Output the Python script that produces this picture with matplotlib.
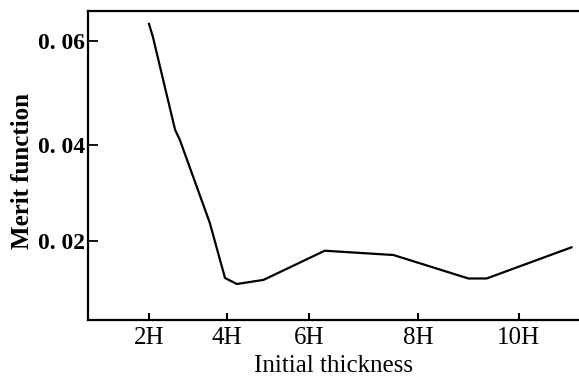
import numpy as np
import matplotlib
matplotlib.use("Agg")
import matplotlib.pyplot as plt

# Merit function against initial thickness (in units of H)
thickness = [2.0, 2.10, 2.67, 2.79, 3.56, 3.95, 4.24, 4.89, 6.29, 7.55, 9.00, 9.36, 11.04]
merit = [0.0634, 0.0609, 0.0429, 0.0410, 0.0237, 0.0122, 0.01095, 0.0118,
         0.0179, 0.0170, 0.0121, 0.0121, 0.0186]

x_ticks = [2, 4, 6, 8, 10]
x_tick_labels = ["2H", "4H", "6H", "8H", "10H"]
y_ticks = [0.02, 0.04, 0.06]
y_tick_labels = ["0. 02", "0. 04", "0. 06"]

# The printed axes are not evenly graduated: these are the drawn
# positions of the graduations along each axis (arbitrary length units).
x_grad_pos = [149, 227, 309, 418, 519]
y_grad_pos = [-240.7, -145.0, -41.7]


def piecewise(src, dst):
    src = np.asarray(src, float)
    dst = np.asarray(dst, float)
    s_lo = (dst[1] - dst[0]) / (src[1] - src[0])
    s_hi = (dst[-1] - dst[-2]) / (src[-1] - src[-2])

    def f(v):
        v = np.asarray(v, float)
        out = np.interp(v, src, dst)
        out = np.where(v < src[0], dst[0] + (v - src[0]) * s_lo, out)
        out = np.where(v > src[-1], dst[-1] + (v - src[-1]) * s_hi, out)
        return out
    return f


plt.rcParams["font.family"] = ["Liberation Serif", "DejaVu Serif"]

fig = plt.figure(figsize=(5.79, 3.78), dpi=100)
W, H = 579, 378
ax = fig.add_axes([88 / W, (H - 320) / H, (579 - 88) / W, (320 - 11) / H])

ax.set_xscale("function", functions=(piecewise(x_ticks, x_grad_pos),
                                     piecewise(x_grad_pos, x_ticks)))
ax.set_yscale("function", functions=(piecewise(y_ticks, y_grad_pos),
                                     piecewise(y_grad_pos, y_ticks)))

ax.plot(thickness, merit, color="black", lw=1.6, solid_joinstyle="round")

ax.set_xlim(0.436, 11.19)
ax.set_ylim(0.00343, 0.0659)

ax.set_xticks(x_ticks)
ax.set_xticklabels(x_tick_labels, fontsize=18)
ax.set_yticks(y_ticks)
ax.set_yticklabels(y_tick_labels, fontsize=17, fontweight="bold")
ax.minorticks_off()

ax.tick_params(axis="x", direction="in", length=5, width=1.5, pad=5)
ax.tick_params(axis="y", direction="in", length=7, width=1.3, pad=2)

for side in ("left", "bottom", "top"):
    ax.spines[side].set_linewidth(1.6)
ax.spines["right"].set_visible(False)

ax.set_xlabel("Initial thickness", fontsize=18, labelpad=4)
ax.set_ylabel("Merit function", fontsize=18, fontweight="bold")
ax.yaxis.set_label_coords(-0.109, 0.482)

fig.savefig("out.png", dpi=100)
